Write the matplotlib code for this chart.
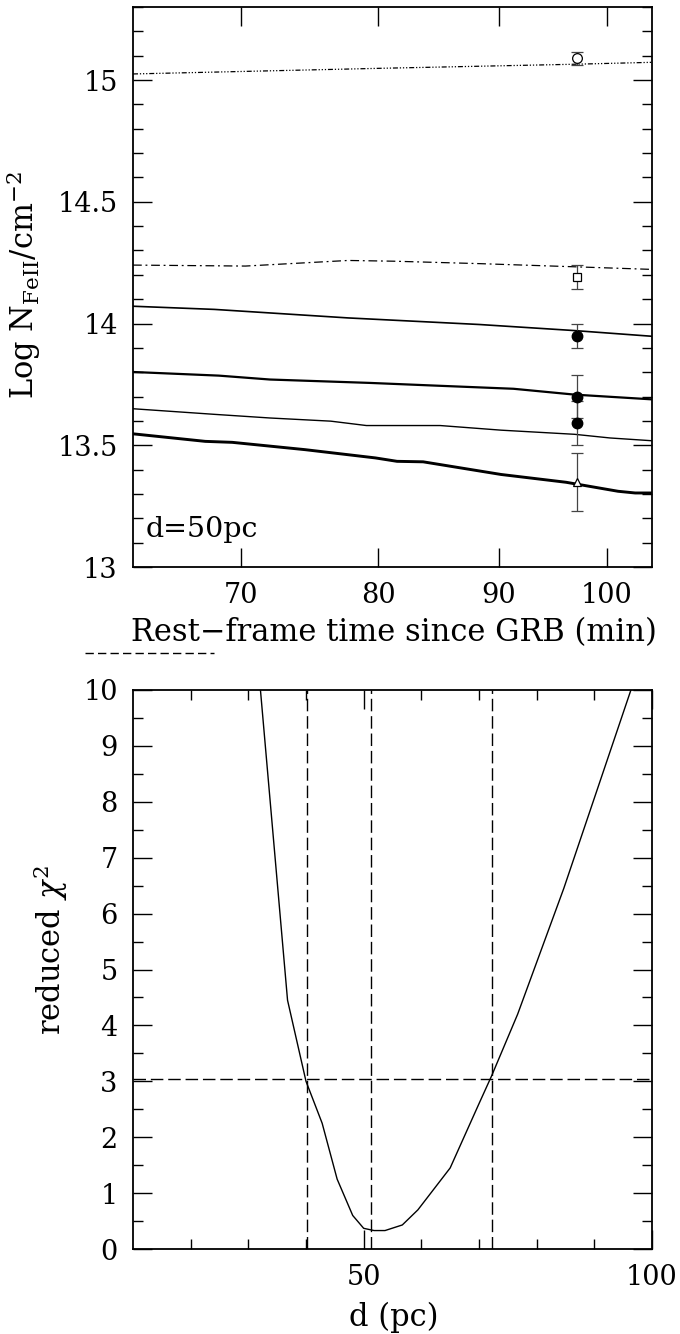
#!/usr/bin/env python3
# -*- coding: utf-8 -*-

import matplotlib
matplotlib.use("Agg")
import matplotlib.pyplot as plt
from matplotlib.lines import Line2D
from matplotlib.ticker import FixedLocator, MultipleLocator, NullLocator, FixedFormatter

plt.rcParams['font.family'] = ['DejaVu Serif']
plt.rcParams['mathtext.fontset'] = 'dejavuserif'

# ---- top panel: model column densities vs time (d = 50 pc) ----
tLine1 = [63.0, 80.0, 97.0, 104.7]
nLine1 = [15.025, 15.048, 15.065, 15.073]

tLine2 = [63.0, 70.3, 77.7, 81.2, 88.3, 96.9, 104.7]
nLine2 = [14.240, 14.236, 14.259, 14.256, 14.246, 14.233, 14.222]

tLine3 = [63.0, 68.2, 77.7, 88.3, 96.9, 104.7]
nLine3 = [14.071, 14.058, 14.023, 13.996, 13.971, 13.947]

tLine4 = [63.0, 68.5, 72.0, 79.4, 84.6, 91.3, 96.9, 104.7]
nLine4 = [13.801, 13.786, 13.770, 13.756, 13.745, 13.732, 13.708, 13.688]

tLine5 = [63.0, 68.2, 72.0, 76.4, 79.1, 85.0, 90.2, 96.9, 100.3, 104.7]
nLine5 = [13.650, 13.627, 13.612, 13.599, 13.581, 13.581, 13.562, 13.545, 13.530, 13.518]

tLine6 = [63.0, 67.6, 69.4, 74.5, 79.8, 81.5, 83.6, 90.2, 96.1, 101.1, 102.8, 104.7]
nLine6 = [13.547, 13.516, 13.512, 13.482, 13.448, 13.434, 13.432, 13.380, 13.348, 13.311, 13.304, 13.304]

tObs = 97.1
obsOpenCircle = (15.09, 0.027)
obsSquare = (14.19, 0.05)
obsFilled = [(13.95, 0.05), (13.70, 0.09), (13.59, 0.09)]
obsTriangle = (13.35, 0.12)

# ---- bottom panel: reduced chi^2 vs distance ----
dist = [31.0, 36.8, 40.0, 42.8, 45.4, 48.1, 50.0, 51.8, 53.7, 56.7, 59.4, 65.0, 70.0, 72.2, 76.7, 84.7, 97.0]
chi2 = [11.3, 4.45, 3.0, 2.25, 1.25, 0.6, 0.37, 0.33, 0.33, 0.43, 0.7, 1.45, 2.6, 3.1, 4.2, 6.45, 10.2]
dLower, dBest, dUpper = 40.2, 51.2, 72.3
chi2Limit = 3.05

W, H = 680, 1334
fig = plt.figure(figsize=(W / 100, H / 100), dpi=100)

def axRect(left, top, right, bottom):
    return [left / W, 1 - bottom / H, (right - left) / W, (bottom - top) / H]

fs = 19.5
fsLabel = 22

def styleAxes(ax):
    for s in ax.spines.values():
        s.set_linewidth(1.3)
    ax.tick_params(which='both', direction='in', top=True, right=True, width=1.0,
                   labelsize=fs, pad=11)
    ax.tick_params(which='major', length=13.5)
    ax.tick_params(which='minor', length=7)

ax1 = fig.add_axes(axRect(133, 7, 652, 567))
ax1.plot(tLine1, nLine1, 'k', lw=0.9, ls=(0, (4, 1.5, 1, 1.5, 1, 1.5, 1, 1.5)))
ax1.plot(tLine2, nLine2, 'k', lw=0.9, ls=(0, (7, 3, 1.5, 3)))
ax1.plot(tLine3, nLine3, 'k', lw=1.2)
ax1.plot(tLine4, nLine4, 'k', lw=1.6)
ax1.plot(tLine5, nLine5, 'k', lw=1.0)
ax1.plot(tLine6, nLine6, 'k', lw=2.1)

ebKw = dict(ecolor='#444444', elinewidth=0.9, capsize=4.5, capthick=0.9, color='k')
ax1.errorbar([tObs], [obsOpenCircle[0]], yerr=[obsOpenCircle[1]], fmt='o', ms=7,
             mfc='white', mec='k', mew=0.9, **ebKw)
ax1.errorbar([tObs], [obsSquare[0]], yerr=[obsSquare[1]], fmt='s', ms=5.5,
             mfc='white', mec='k', mew=0.9, **ebKw)
for val, err in obsFilled:
    ax1.errorbar([tObs], [val], yerr=[err], fmt='o', ms=7.5, mfc='k', mec='k', **ebKw)
ax1.errorbar([tObs], [obsTriangle[0]], yerr=[obsTriangle[1]], fmt='^', ms=6,
             mfc='white', mec='k', mew=0.9, **ebKw)

ax1.set_xscale('log')
ax1.set_xlim(63.0, 104.5)
ax1.set_ylim(13.0, 15.3)
ax1.xaxis.set_major_locator(FixedLocator([70, 80, 90, 100]))
ax1.xaxis.set_major_formatter(FixedFormatter(['70', '80', '90', '100']))
ax1.xaxis.set_minor_locator(NullLocator())
ax1.yaxis.set_major_locator(FixedLocator([13, 13.5, 14, 14.5, 15]))
ax1.yaxis.set_major_formatter(FixedFormatter(['13', '13.5', '14', '14.5', '15']))
ax1.yaxis.set_minor_locator(MultipleLocator(0.1))
styleAxes(ax1)
ax1.text((146 - 133) / 519, (567 - 530) / 560, 'd=50pc', transform=ax1.transAxes,
         fontsize=20.5, ha='left', va='center')

fig.text(24 / W, 1 - 285 / H, 'Log N$_{\\mathrm{FeII}}$/cm$^{-2}$', rotation=90,
         ha='center', va='center', fontsize=fsLabel)
fig.text(394 / W, 1 - 633 / H, 'Rest\u2212frame time since GRB (min)',
         ha='center', va='center', fontsize=fsLabel)
fig.add_artist(Line2D([85 / W, 214 / W], [1 - 653 / H, 1 - 653 / H], color='k', lw=1.0,
                      ls=(0, (6, 3))))

ax2 = fig.add_axes(axRect(133, 690, 652, 1249))
ax2.plot(dist, chi2, 'k', lw=1.0)
dashKw = dict(color='k', lw=1.0, ls=(0, (9, 3.5)))
for d in (dLower, dBest, dUpper):
    ax2.axvline(d, **dashKw)
ax2.axhline(chi2Limit, **dashKw)
ax2.set_xlim(10, 100)
ax2.set_ylim(0, 10)
ax2.xaxis.set_major_locator(FixedLocator([50, 100]))
ax2.xaxis.set_minor_locator(FixedLocator([20, 30, 40, 60, 70, 80, 90]))
ax2.yaxis.set_major_locator(MultipleLocator(1))
ax2.yaxis.set_minor_locator(MultipleLocator(0.5))
styleAxes(ax2)

fig.text(51 / W, 1 - 950 / H, 'reduced $\\chi^2$', rotation=90,
         ha='center', va='center', fontsize=fsLabel)
fig.text(394 / W, 1 - 1317 / H, 'd (pc)', ha='center', va='center', fontsize=fsLabel)

fig.savefig('out.png', dpi=100)
